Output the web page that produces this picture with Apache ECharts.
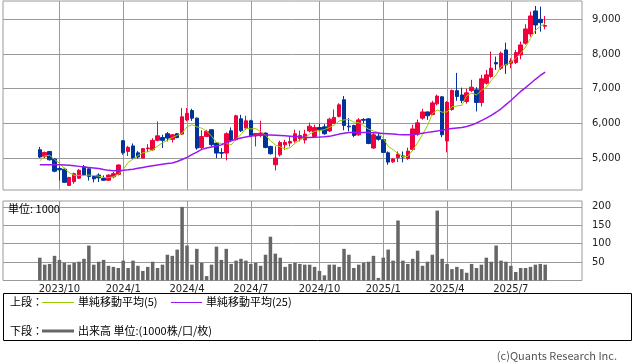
<!DOCTYPE html>
<html><head><meta charset="utf-8">
<script src="https://cdn.jsdelivr.net/npm/echarts@6/dist/echarts.min.js"></script>
<style>html,body{margin:0;padding:0;background:#fff}#c{width:638px;height:362px}</style>
</head><body><div id="c"></div>
<script>
// ---- data ----
const firstWeek = [2023, 9, 4];   // Monday of first weekly candle
const weekCount = 104;
const padBefore = 7, padAfter = 7;
const tickWeeks  = ['2023/10/02','2024/01/01','2024/04/01','2024/07/01','2024/10/07','2025/01/06','2025/04/07','2025/07/07'];
const tickLabels = ['2023/10','2024/1','2024/4','2024/7','2024/10','2025/1','2025/4','2025/7'];
const priceTicks = [5000,6000,7000,8000,9000];
const volTicks = [50,100,150,200];

const openP = [5240,5050,5190,4970,4700,4680,4210,4320,4420,4750, 4690,4470,4510,4410,4360,4460,4530,5500,5190,5350,
 5150,5000,5270,5240,5510,5590,5700,5540,5700,5690, 6100,6370,6150,5300,5623,5815,5431,5160,5143,5786,
 5527,6131,5863,6074,5642,5671,5719,5335,4807,5095, 5383,5431,5490,5560,5520,5780,5620,5880,5900,5780,
 6000,6200,6680,5920,5940,5670,6110,6130,5290,5630, 5530,5152,4890,5018,5060,4990,5250,5690,6150,6330,
 6255,6563,6765,5495,6400,6942,6820,6630,6947,6966, 6601,7158,7350,7753,7590,8117,7733,7753,7973,8309,
 8577,9240,8999,8800];
const closeP = [5030,5160,4950,4620,4660,4300,4440,4550,4650,4520, 4470,4400,4430,4360,4510,4550,4800,5150,5310,5000,
 5030,5270,5290,5510,5640,5510,5575,5670,5590,6190, 6290,6150,5290,5620,5767,5383,5143,5140,5700,5508,
 6218,5786,6074,5642,5710,5719,5306,5124,4999,5450, 5450,5479,5700,5650,5690,5920,5880,5815,5700,6120,
 6170,6535,5940,5900,5650,6100,6090,5420,5670,5540, 5162,4884,4970,5114,5030,5200,5840,6015,6330,6218,
 6590,6785,5672,6605,6947,6775,6660,6880,7043,6601, 7283,7398,7590,7714,8021,7685,7800,8040,8261,8721,
 9096,8836,8903,8820];
const lowP = [5000,5000,4930,4590,4350,4280,4200,4260,4400,4480, 4350,4300,4310,4340,4340,4420,4500,5100,5060,4990,
 4980,4990,5170,5210,5480,5290,5480,5450,5570,5670, 6060,6070,5240,5250,5604,5340,4999,4999,4932,5460,
 5500,5750,5820,5600,5335,5604,5280,5100,4644,5047, 5239,5335,5440,5480,5420,5740,5590,5770,5670,5750,
 5980,6170,5800,5770,5600,5640,6000,5400,5260,5500, 5150,4807,4860,4884,4875,4950,5200,5640,6105,6100,
 6230,6520,5600,5165,6365,6650,6583,6570,6900,6342, 6486,7120,7302,7542,7542,7427,7590,7714,7848,8270,
 8500,8577,8645,8712];
const highP = [5320,5190,5200,5000,4760,4720,4460,4580,4680,4800, 4700,4480,4560,4500,4530,4600,4820,5520,5350,5420,
 5200,5290,5400,5570,6055,5670,5750,5690,5720,6440, 6440,6420,6170,5800,5815,5834,5450,5287,5738,5882,
 6246,6246,6218,6102,5719,6074,5738,5354,5335,5498, 5527,5623,5820,5790,5815,6020,5960,5990,5980,6160,
 6400,6580,6790,6150,5960,6150,6150,6150,5720,5750, 5570,5190,5000,5190,5190,5300,5960,6110,6420,6340,
 6650,6830,6785,6640,6975,7455,7030,7000,7254,7043, 7398,7542,8069,7925,8069,8328,7877,8117,8357,8856,
 9220,9383,9364,9096];
const ma5 = [4920,5060,5080,4960,4850,4700,4580,4500,4500,4495, 4510,4500,4480,4440,4435,4460,4530,4670,4870,4970,
 5070,5150,5185,5230,5345,5440,5510,5590,5650,5720, 5900,5960,5900,5860,5780,5630,5450,5420,5420,5380,
 5540,5680,5860,5840,5850,5760,5660,5500,5380,5320, 5265,5300,5420,5520,5590,5690,5770,5790,5820,5880,
 5950,6070,6100,6110,6040,6020,5930,5830,5780,5740, 5570,5335,5240,5130,5040,5045,5230,5440,5680,5930,
 6280,6390,6320,6330,6480,6500,6520,6800,6870,6820, 6950,7040,7230,7400,7640,7690,7760,7880,8020,8200,
 8450,8680,8800,8870];
const ma25 = [4810,4810,4810,4808,4805,4800,4790,4775,4760,4745, 4730,4715,4700,4670,4645,4635,4635,4645,4660,4680,
 4705,4730,4755,4780,4800,4820,4840,4860,4900,4960, 5020,5100,5170,5250,5290,5320,5345,5380,5440,5500,
 5545,5580,5610,5635,5650,5660,5665,5665,5660,5650, 5640,5630,5620,5610,5600,5595,5600,5605,5612,5625,
 5660,5690,5715,5735,5740,5740,5740,5738,5730,5720, 5710,5700,5690,5680,5672,5670,5670,5690,5715,5740,
 5760,5780,5805,5830,5850,5865,5880,5910,5950,6010, 6080,6150,6230,6320,6420,6540,6660,6790,6920,7030,
 7150,7270,7380,7480];
const volume = [62,43,45,67,56,48,43,48,51,59, 95,43,51,56,40,37,34,54,34,54,
 40,26,37,51,34,43,70,67,84,200, 95,43,86,48,12,43,92,56,86,45,
 54,59,54,45,48,40,70,119,73,62, 37,45,48,45,43,43,37,26,14,43,
 43,37,86,70,34,43,48,51,67,7, 62,84,54,163,54,45,59,81,40,51,
 70,190,59,45,31,37,31,21,45,34, 43,62,51,95,54,51,40,23,34,34,
 37,43,45,43];

// ---- build categories (weekly) ----
function fmt(d){const m=d.getUTCMonth()+1, dd=d.getUTCDate();return d.getUTCFullYear()+'/'+(m<10?'0':'')+m+'/'+(dd<10?'0':'')+dd;}
const cats = [];
for (let k=0;k<padBefore;k++) cats.push('pre'+k);
const t0 = Date.UTC(firstWeek[0], firstWeek[1]-1, firstWeek[2]);
for (let k=0;k<weekCount;k++) cats.push(fmt(new Date(t0 + k*7*86400000)));
for (let k=0;k<padAfter;k++) cats.push('post'+k);
const pad = (arr, f) => { const a=[]; for(let k=0;k<padBefore;k++) a.push('-'); arr.forEach((v,i)=>a.push(f(v,i))); for(let k=0;k<padAfter;k++) a.push('-'); return a; };
const candleData = pad(openP, (v,i)=>[openP[i], closeP[i], lowP[i], highP[i]]);

const UP='#f0003c', DOWN='#003399', GRID='#9a9a9a';
const fontNum = 'DejaVu Sans';
const fontJP = 'Noto Sans CJK JP';
const vGrid = (xi, yi) => ({
  type:'line', xAxisIndex:xi, yAxisIndex:yi, data:[], silent:true, z:1,
  markLine:{silent:true, symbol:'none', z:1, animation:false, label:{show:false},
    lineStyle:{color:GRID, width:1, type:'solid'}, emphasis:{disabled:true},
    data: tickWeeks.map(w=>({xAxis:w}))}
});

const chart = echarts.init(document.getElementById('c'), null, {renderer:'canvas'});
chart.setOption({
  animation:false,
  backgroundColor:'#fff',
  grid:[
    {left:3, top:1, width:579, height:189, show:true, borderColor:GRID, borderWidth:1, backgroundColor:'transparent'},
    {left:3, top:201, width:579, height:79.5, show:true, borderColor:GRID, borderWidth:1, backgroundColor:'transparent'}
  ],
  xAxis:[
    {type:'category', gridIndex:0, data:cats, boundaryGap:true,
     axisLine:{show:false}, axisTick:{show:false}, axisLabel:{show:false}, splitLine:{show:false}},
    {type:'category', gridIndex:1, data:cats, boundaryGap:true,
     axisLine:{show:false}, axisTick:{show:false}, splitLine:{show:false},
     axisLabel:{show:true, margin:4, color:'#222', fontFamily:fontNum, fontSize:10,
       interval:(idx, val)=>tickWeeks.indexOf(val)>=0,
       formatter:(val)=>{const j=tickWeeks.indexOf(val);return j>=0?tickLabels[j]:'';}}}
  ],
  yAxis:[
    {type:'value', gridIndex:0, position:'right', min:4079, max:9527, scale:true,
     axisLine:{show:false}, axisTick:{show:false, customValues:priceTicks},
     axisLabel:{customValues:priceTicks, margin:10, color:'#222', fontFamily:fontNum, fontSize:10,
       formatter:v=>String(v).replace(/\B(?=(\d{3})+(?!\d))/g, ',')},
     splitLine:{show:true, lineStyle:{color:GRID, width:1}}},
    {type:'value', gridIndex:1, position:'right', min:0, max:216,
     axisLine:{show:false}, axisTick:{show:false, customValues:volTicks},
     axisLabel:{customValues:volTicks, margin:10, color:'#222', fontFamily:fontNum, fontSize:10},
     splitLine:{show:true, lineStyle:{color:GRID, width:1}}}
  ],
  series:[
    vGrid(0,0), vGrid(1,1),
    {name:'株価', type:'candlestick', xAxisIndex:0, yAxisIndex:0, z:3, data:candleData, barWidth:4,
     itemStyle:{color:UP, color0:DOWN, borderColor:UP, borderColor0:DOWN, borderWidth:1}},
    {name:'単純移動平均(5)', type:'line', xAxisIndex:0, yAxisIndex:0, z:4, data:pad(ma5, v=>v),
     symbol:'none', lineStyle:{color:'#99cc00', width:1}},
    {name:'単純移動平均(25)', type:'line', xAxisIndex:0, yAxisIndex:0, z:4, data:pad(ma25, v=>v),
     symbol:'none', lineStyle:{color:'#9a16f5', width:1.5}},
    {name:'出来高', type:'bar', xAxisIndex:1, yAxisIndex:1, z:3, data:pad(volume, v=>v), barWidth:3.5,
     itemStyle:{color:'#666666'}}
  ],
  graphic:[
    {type:'text', left:8, top:203, z:10, style:{text:'単位: 1000', fontFamily:fontJP, fontSize:11, fill:'#000'}},
    {type:'rect', shape:{x:3.5, y:293.5, width:628, height:47}, style:{fill:'none', stroke:'#000', lineWidth:1}},
    {type:'text', x:10, y:302, style:{text:'上段：', fontFamily:fontJP, fontSize:11, fill:'#000', verticalAlign:'middle'}},
    {type:'line', shape:{x1:42, y1:302.5, x2:74, y2:302.5}, style:{stroke:'#99cc00', lineWidth:1}},
    {type:'text', x:78, y:302, style:{text:'単純移動平均(5)', fontFamily:fontJP, fontSize:11, fill:'#000', verticalAlign:'middle'}},
    {type:'line', shape:{x1:171, y1:302.5, x2:202, y2:302.5}, style:{stroke:'#9a16f5', lineWidth:1}},
    {type:'text', x:206, y:302, style:{text:'単純移動平均(25)', fontFamily:fontJP, fontSize:11, fill:'#000', verticalAlign:'middle'}},
    {type:'text', x:10, y:331, style:{text:'下段：', fontFamily:fontJP, fontSize:11, fill:'#000', verticalAlign:'middle'}},
    {type:'line', shape:{x1:42, y1:331, x2:74, y2:331}, style:{stroke:'#666666', lineWidth:3}},
    {type:'text', x:78, y:331, style:{text:'出来高 単位:(1000株/口/枚)', fontFamily:fontJP, fontSize:11, fill:'#000', verticalAlign:'middle'}},
    {type:'text', right:21, top:350, style:{text:'(c)Quants Research Inc.', fontFamily:fontJP, fontSize:11, fill:'#555'}}
  ]
});
</script></body></html>
